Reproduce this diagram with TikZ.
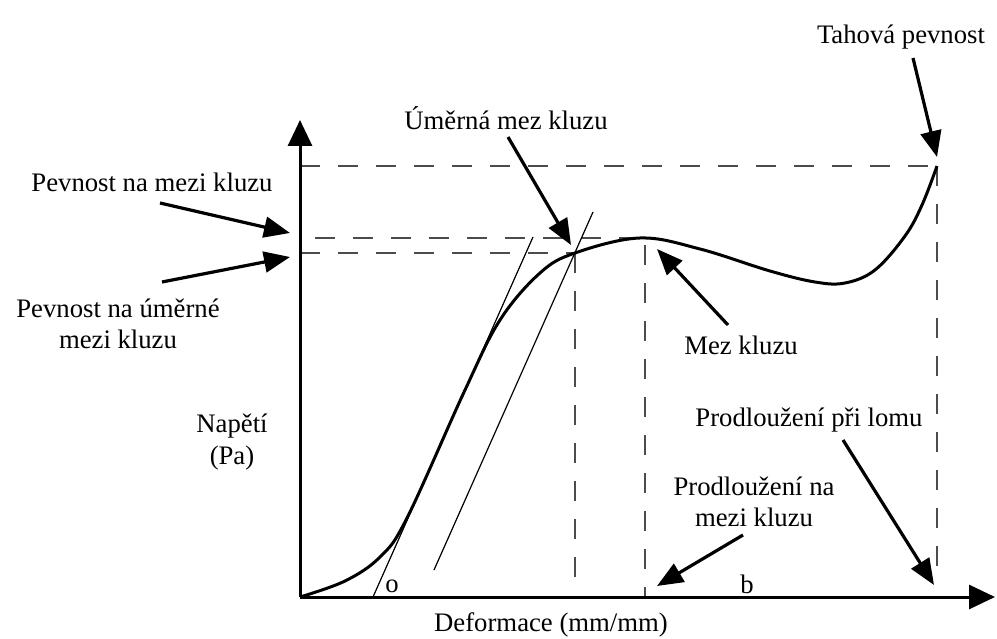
\documentclass[tikz,border=0pt]{standalone}
\usepackage{fontspec}
\setmainfont{Liberation Serif}
\usetikzlibrary{arrows.meta}
\tikzset{
	lbl/.style={inner sep=0pt, align=center, font=\fontsize{19}{22.5}\selectfont},
	axis/.style={line width=0.75mm, -{Triangle[length=6.5mm,width=6mm]}},
	pointer/.style={line width=0.8mm, -{Triangle[length=6.5mm,width=5.2mm]}},
	guide/.style={line width=0.38mm, color=black!70, dash pattern=on 5mm off 4.5mm},
	tangent/.style={line width=0.3mm}
}

\begin{document}
\begin{tikzpicture}[x=0.25mm, y=-0.25mm]
			%%%%% START %%%%%
			\useasboundingbox (0, 0) rectangle (997, 639);
			
			\coordinate (O) at (300, 597);
			\coordinate (ytip) at (300, 120);
			\coordinate (xtip) at (995, 597);
			\coordinate (prop) at (575, 253);
			\coordinate (peak) at (640, 238);
			\coordinate (brk) at (937, 166);
			
			% guides
			\draw[guide] (300, 166) -- (brk);
			\draw[guide] (315, 238) -- (peak);
			\draw[guide] (300, 253) -- (prop);
			\draw[guide] (prop) -- (575, 582);
			\draw[guide] (645, 245) -- (645, 597);
			\draw[guide] (brk) -- (937, 582);
			
			% tangents
			\draw[tangent] (373, 597) -- (533, 237);
			\draw[tangent] (434, 570) -- (593, 212);
			
			% curve
			\draw[line width=0.75mm] plot[smooth, tension=0.6] coordinates {
				(O) (345, 581) (380, 557) (407, 518) (465, 390) (500, 320)
				(540, 273) (prop) (peak) (700, 249) (770, 271) (815, 282)
				(845, 283) (875, 270) (905, 236) (922, 205) (brk)};
			
			% axes
			\draw[axis] (O) -- (ytip);
			\draw[axis] (O) -- (xtip);
			
			% labels
			\node[lbl] (tah) at (901, 37) {Tahová pevnost};
			\node[lbl] (umk) at (506, 118) {Úměrná mez kluzu};
			\node[lbl] (pmk) at (152, 182) {Pevnost na mezi kluzu};
			\node[lbl] (pumk) at (118, 324) {Pevnost na úměrné\\mezi kluzu};
			\node[lbl] (mk) at (741, 345) {Mez kluzu};
			\node[lbl] (nap) at (232, 442) {Napětí\\(Pa)};
			\node[lbl] (ppl) at (809, 420) {Prodloužení při lomu};
			\node[lbl] (pnmk) at (754, 502) {Prodloužení na\\mezi kluzu};
			\node[lbl] (b) at (747, 584) {b};
			\node[lbl] (o) at (392, 586) {o};
			\node[lbl] (def) at (551, 625) {Deformace (mm/mm)};
			
			% pointers
			\coordinate (tahA) at (913, 58);   \coordinate (tahB) at (937, 157);
			\coordinate (umkA) at (508, 137);  \coordinate (umkB) at (571, 245);
			\coordinate (pmkA) at (160, 203);  \coordinate (pmkB) at (290, 233);
			\coordinate (pumkA) at (162, 282); \coordinate (pumkB) at (290, 257);
			\coordinate (mkA) at (728, 325);   \coordinate (mkB) at (657, 249);
			\coordinate (pplA) at (843, 440);  \coordinate (pplB) at (934, 585);
			\coordinate (pnmkA) at (743, 535); \coordinate (pnmkB) at (657, 586);
			
			\draw[pointer] (tahA) -- (tahB);
			\draw[pointer] (umkA) -- (umkB);
			\draw[pointer] (pmkA) -- (pmkB);
			\draw[pointer] (pumkA) -- (pumkB);
			\draw[pointer] (mkA) -- (mkB);
			\draw[pointer] (pplA) -- (pplB);
			\draw[pointer] (pnmkA) -- (pnmkB);
			
			%%%%% END %%%%%
\end{tikzpicture}
\end{document}
